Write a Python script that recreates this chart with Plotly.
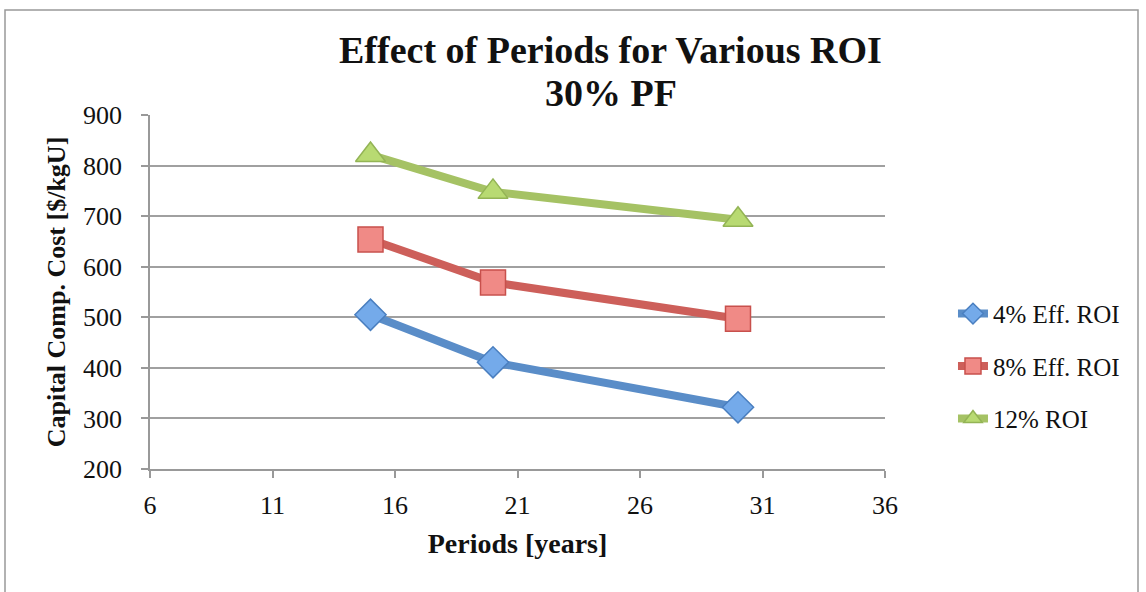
import plotly.graph_objects as go

# Capital component cost vs. financing period, 30% plant factor
periods = [15, 20, 30]
roi_4_eff = [505, 411, 322]
roi_8_eff = [654, 569, 497]
roi_12 = [821, 748, 693]

series_names = ["4% Eff. ROI", "8% Eff. ROI", "12% ROI"]
x_ticks = [6, 11, 16, 21, 26, 31, 36]
y_ticks = [200, 300, 400, 500, 600, 700, 800, 900]
title_lines = ["Effect of Periods for Various ROI", "30% PF"]

FONT = "Liberation Serif"

styles = [
    dict(line="#5A8DC8", fill="#74AAEA", edge="#4A7FC0", symbol="diamond", size=24),
    dict(line="#CD5F5A", fill="#F08A86", edge="#C8504C", symbol="square", size=25),
    dict(line="#A5C264", fill="#B8DA72", edge="#93B455", symbol="triangle-up", size=26),
]

fig = go.Figure()
for i, (name, vals, st) in enumerate(zip(series_names, [roi_4_eff, roi_8_eff, roi_12], styles)):
    fig.add_trace(go.Scatter(
        x=periods, y=vals, name=name, mode="lines+markers",
        legendgroup=f"g{i}",
        line=dict(color=st["line"], width=8),
        marker=dict(symbol=st["symbol"], size=st["size"], color=st["fill"],
                    line=dict(color=st["edge"], width=1.5)),
    ))

axis_common = dict(
    showline=True, linecolor="#999999", linewidth=1.5,
    ticks="outside", tickcolor="#999999", ticklen=7, tickwidth=1.5,
    tickfont=dict(family=FONT, size=26, color="#111"),
    zeroline=False,
)

fig.update_layout(
    width=1146, height=592,
    margin=dict(l=150, r=261, t=115, b=123),
    paper_bgcolor="white", plot_bgcolor="white",
    xaxis=dict(
        range=[6, 36], tickvals=x_ticks, showgrid=False, ticklabelstandoff=5,
        title=dict(text="<b>Periods [years]</b>", font=dict(family=FONT, size=28, color="#111"),
                   standoff=14),
        **axis_common,
    ),
    yaxis=dict(
        range=[200, 900], tickvals=y_ticks, showgrid=True, ticklabelstandoff=14,
        gridcolor="#a0a0a0", gridwidth=1.5,
        title=dict(text="<b>Capital Comp. Cost [$/kgU]</b>", font=dict(family=FONT, size=26, color="#111"),
                   standoff=10),
        **axis_common,
    ),
    legend=dict(
        x=1.0925, xanchor="left", y=0.29, yanchor="middle",
        font=dict(family=FONT, size=25, color="#111"),
        tracegroupgap=17, bgcolor="rgba(0,0,0,0)",
    ),
    showlegend=True,
)

# Two-line chart title
for text, ypos in zip(title_lines, [1.183, 1.062]):
    fig.add_annotation(text=f"<b>{text}</b>", xref="paper", yref="paper",
                       x=0.627, y=ypos, xanchor="center", yanchor="middle",
                       showarrow=False, font=dict(family=FONT, size=38, color="#111"))

# Outer chart frame
fig.add_shape(type="rect", xref="paper", yref="paper",
              x0=(5 - 150) / 735, x1=(1138 - 150) / 735,
              y0=(469 - 620) / 354, y1=(469 - 10) / 354,
              line=dict(color="#999999", width=1.5), fillcolor="rgba(0,0,0,0)", layer="below")

fig.write_html("out.html")
